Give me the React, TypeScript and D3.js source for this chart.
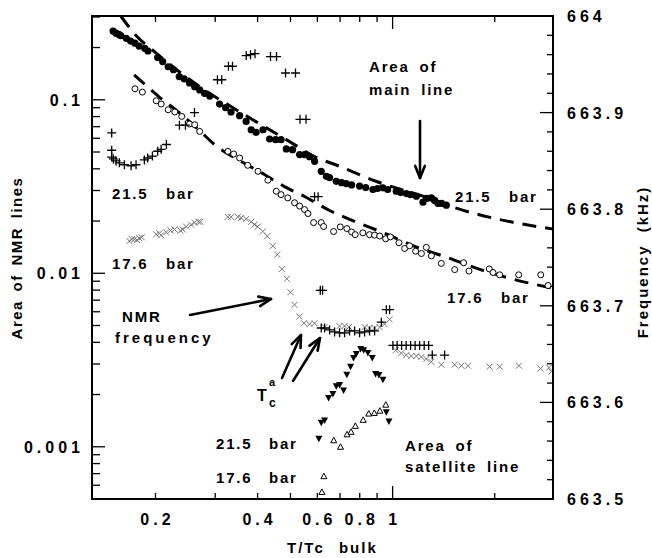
import React from 'react';
import * as d3 from 'd3';

const WIDTH = 652;
const HEIGHT = 558;
const margin = { top: 16, right: 99, bottom: 59, left: 92 };
const FONT = "'Liberation Sans', Arial, Helvetica, sans-serif";

// tick labels
const xTickValues = [0.2, 0.4, 0.6, 0.8, 1];
const xTickLabels = ['0.2', '0.4', '0.6', '0.8', '1'];
const areaTickValues = [0.001, 0.01, 0.1];
const areaTickLabels = ['0.001', '0.01', '0.1'];
const freqTickValues = [663.5, 663.6, 663.7, 663.8, 663.9, 664];
const freqTickLabels = ['663.5', '663.6', '663.7', '663.8', '663.9', '664'];

// [T/Tc bulk, area] - area of main line, 21.5 bar (filled circles)
const mainArea215: [number, number][] = [
  [0.150, 0.249], [0.153, 0.242], [0.156, 0.238], [0.158, 0.234], [0.164, 0.226],
  [0.169, 0.218], [0.174, 0.212], [0.179, 0.204], [0.186, 0.198], [0.190, 0.191],
  [0.203, 0.175], [0.210, 0.166], [0.218, 0.155], [0.226, 0.149], [0.235, 0.136],
  [0.243, 0.132], [0.252, 0.125], [0.261, 0.119], [0.270, 0.114], [0.279, 0.109],
  [0.289, 0.105], [0.309, 0.0945], [0.322, 0.090], [0.334, 0.085], [0.354, 0.081],
  [0.370, 0.075], [0.383, 0.0672], [0.396, 0.0649], [0.415, 0.0672], [0.434, 0.0594],
  [0.452, 0.0589], [0.469, 0.0589], [0.486, 0.0521], [0.507, 0.0516], [0.532, 0.0483],
  [0.550, 0.0483], [0.569, 0.0470], [0.589, 0.0442], [0.616, 0.0387], [0.638, 0.0362],
  [0.652, 0.0356], [0.682, 0.0339], [0.707, 0.0333], [0.730, 0.0329], [0.757, 0.0323],
  [0.799, 0.0318], [0.833, 0.0312], [0.875, 0.0304], [0.903, 0.0308], [0.936, 0.0311],
  [0.967, 0.0304], [1.025, 0.0297], [1.056, 0.0292], [1.098, 0.0288], [1.130, 0.0284],
  [1.175, 0.0278], [1.229, 0.0257], [1.260, 0.0270], [1.301, 0.0272], [1.330, 0.0263],
  [1.360, 0.0253], [1.395, 0.0253], [1.440, 0.0247],
];

// [T/Tc bulk, area] - area of main line, 17.6 bar (open circles)
const mainArea176: [number, number][] = [
  [0.174, 0.1157], [0.183, 0.1107], [0.201, 0.0987], [0.208, 0.0945], [0.218, 0.0876],
  [0.228, 0.0850], [0.239, 0.0802], [0.252, 0.0725], [0.261, 0.0718], [0.270, 0.0657],
  [0.327, 0.0504], [0.340, 0.0487], [0.354, 0.0462], [0.374, 0.0419], [0.401, 0.0387],
  [0.429, 0.0344], [0.454, 0.0297], [0.469, 0.0284], [0.491, 0.0272], [0.514, 0.0255],
  [0.532, 0.0244], [0.550, 0.0233], [0.563, 0.0221], [0.585, 0.0196], [0.616, 0.0196],
  [0.626, 0.0186], [0.670, 0.0174], [0.701, 0.0185], [0.733, 0.0181], [0.757, 0.0173],
  [0.776, 0.0167], [0.817, 0.0171], [0.855, 0.0167], [0.885, 0.0166], [0.916, 0.0164],
  [0.954, 0.0158], [0.985, 0.0162], [1.044, 0.0150], [1.085, 0.0139], [1.122, 0.0144],
  [1.169, 0.0134], [1.216, 0.0130], [1.257, 0.0141], [1.301, 0.0126], [1.392, 0.0114],
  [1.524, 0.0105], [1.619, 0.0115], [1.679, 0.0103], [1.927, 0.0106], [1.977, 0.0101],
  [2.068, 0.0098], [2.353, 0.0098], [2.733, 0.0098], [2.872, 0.0085],
];

// [T/Tc bulk, area] - dashed curves through the main line areas
const fit215: [number, number][] = [
  [0.158, 0.304], [0.177, 0.230], [0.199, 0.189], [0.235, 0.145], [0.279, 0.114],
  [0.331, 0.0924], [0.405, 0.0728], [0.497, 0.0574], [0.597, 0.0464], [0.688, 0.0418],
  [0.897, 0.0338], [1.286, 0.0270], [1.524, 0.0239], [2.068, 0.0204], [2.965, 0.0180],
];
const fit176: [number, number][] = [
  [0.173, 0.1392], [0.188, 0.1204], [0.205, 0.1040], [0.235, 0.0842], [0.270, 0.0663],
  [0.299, 0.0551], [0.354, 0.0446], [0.419, 0.0371], [0.480, 0.0316], [0.550, 0.0277],
  [0.652, 0.0230], [0.773, 0.0199], [0.947, 0.0170], [1.161, 0.0143], [1.473, 0.0122],
  [1.806, 0.01054], [2.214, 0.00936], [2.965, 0.0082],
];

// [T/Tc bulk, kHz] - NMR frequency, 21.5 bar (plus)
const freq215: [number, number][] = [
  [0.1486, 663.879], [0.1486, 663.861], [0.1486, 663.854], [0.1503, 663.852], [0.1531, 663.850],
  [0.1565, 663.848], [0.1620, 663.846], [0.1695, 663.845], [0.1753, 663.846], [0.1855, 663.851],
  [0.1897, 663.853], [0.1959, 663.855], [0.2031, 663.860], [0.2078, 663.862], [0.2154, 663.867],
  [0.2353, 663.887], [0.2451, 663.887], [0.2606, 663.900], [0.3046, 663.934], [0.3136, 663.934],
  [0.3282, 663.948], [0.3373, 663.948], [0.3702, 663.959], [0.3812, 663.960], [0.3930, 663.961],
  [0.4366, 663.958], [0.4548, 663.958], [0.4835, 663.941], [0.5173, 663.941], [0.5334, 663.893],
  [0.5556, 663.893], [0.5887, 663.813], [0.6030, 663.813], [0.6121, 663.716], [0.6217, 663.716],
  [0.6162, 663.677], [0.6302, 663.677], [0.6520, 663.675], [0.6745, 663.673], [0.6976, 663.672],
  [0.7219, 663.672], [0.7467, 663.674], [0.7725, 663.674], [0.7993, 663.672], [0.8270, 663.673],
  [0.8551, 663.674], [0.8849, 663.674], [0.9262, 663.683], [0.9581, 663.696], [0.9798, 663.696],
  [1.002, 663.659], [1.031, 663.659], [1.063, 663.659], [1.096, 663.659], [1.130, 663.659],
  [1.165, 663.659], [1.201, 663.659], [1.239, 663.659], [1.277, 663.659], [1.309, 663.649],
  [1.423, 663.649],
];

// [T/Tc bulk, kHz] - NMR frequency, 17.6 bar (grey x)
const freq176: [number, number][] = [
  [0.1676, 663.767], [0.1702, 663.769], [0.1734, 663.769], [0.1765, 663.768], [0.1793, 663.770],
  [0.1821, 663.771], [0.2009, 663.774], [0.2054, 663.775], [0.2078, 663.773], [0.2150, 663.776],
  [0.2214, 663.778], [0.2275, 663.779], [0.2369, 663.778], [0.2406, 663.779], [0.2462, 663.782],
  [0.2548, 663.784], [0.2606, 663.786], [0.2677, 663.787], [0.2714, 663.787], [0.3267, 663.792],
  [0.3343, 663.792], [0.3496, 663.792], [0.3578, 663.791], [0.3702, 663.790], [0.3831, 663.787],
  [0.3917, 663.784], [0.4005, 663.782], [0.4145, 663.777], [0.4269, 663.772], [0.4434, 663.762],
  [0.4570, 663.753], [0.4715, 663.738], [0.4877, 663.728], [0.5001, 663.714], [0.5139, 663.701],
  [0.5316, 663.689], [0.5481, 663.682], [0.5690, 663.681], [0.5887, 663.682], [0.6302, 663.678],
  [0.6976, 663.679], [0.7219, 663.679], [0.7431, 663.678], [0.8270, 663.678], [0.8551, 663.677],
  [0.8849, 663.677], [0.9155, 663.678], [0.9471, 663.681], [0.9798, 663.686], [1.0206, 663.654],
  [1.0609, 663.651], [1.0975, 663.649], [1.1354, 663.648], [1.1747, 663.648], [1.2155, 663.647],
  [1.2573, 663.645], [1.3008, 663.642], [1.3922, 663.639], [1.5236, 663.639], [1.5946, 663.638],
  [1.6676, 663.638], [1.9323, 663.637], [2.0683, 663.637], [2.3578, 663.638], [2.7276, 663.635],
  [2.891, 663.636], [2.9389, 663.632],
];

// [T/Tc bulk, area] - area of satellite line, 21.5 bar (filled down triangles)
const satArea215: [number, number][] = [
  [0.6062, 0.001112], [0.6162, 0.001374], [0.6302, 0.001416], [0.6474, 0.001913], [0.6666, 0.002017],
  [0.6822, 0.002233], [0.6976, 0.002271], [0.7168, 0.002107], [0.7329, 0.002603], [0.7517, 0.002893],
  [0.7671, 0.003247], [0.7813, 0.003423], [0.8047, 0.003657], [0.8214, 0.003600], [0.8455, 0.003468],
  [0.8711, 0.003247], [0.8910, 0.002627], [0.9111, 0.002593], [0.9362, 0.002436], [0.9581, 0.001583],
  [0.9752, 0.001397],
];

// [T/Tc bulk, area] - area of satellite line, 17.6 bar (open up triangles)
const satArea176: [number, number][] = [
  [0.6187, 0.000549], [0.6272, 0.000677], [0.6707, 0.001090], [0.7023, 0.001000], [0.7341, 0.001180],
  [0.7543, 0.001220], [0.7766, 0.001320], [0.8190, 0.001429], [0.8506, 0.001554], [0.8831, 0.001567],
  [0.9174, 0.001614], [0.9548, 0.001748],
];

function Arrow({ x1, y1, x2, y2 }: { x1: number; y1: number; x2: number; y2: number }) {
  const a = Math.atan2(y2 - y1, x2 - x1);
  const len = 13;
  const spread = 0.38;
  const p1 = [x2 - len * Math.cos(a - spread), y2 - len * Math.sin(a - spread)];
  const p2 = [x2 - len * Math.cos(a + spread), y2 - len * Math.sin(a + spread)];
  return (
    <g stroke="#000" strokeWidth={2.6} fill="none" strokeLinecap="round" strokeLinejoin="round">
      <line x1={x1} y1={y1} x2={x2} y2={y2} />
      <polyline points={`${p1[0]},${p1[1]} ${x2},${y2} ${p2[0]},${p2[1]}`} />
    </g>
  );
}

export default function App() {
  const left = margin.left;
  const right = WIDTH - margin.right;
  const top = margin.top;
  const bottom = HEIGHT - margin.bottom;

  const x = d3.scaleLog().domain([0.13, 2.97]).range([left, right]);
  const yArea = d3.scaleLog().domain([0.0005, 0.304]).range([bottom, top]);
  const yFreq = d3.scaleLinear().domain([663.5, 664]).range([bottom, top]);

  const xTicks = x.ticks();
  const areaTicks = yArea.ticks();
  const freqTicks = d3.range(663.5, 664.001, 0.02);

  const fitLine = d3
    .line<[number, number]>()
    .x(d => x(d[0]))
    .y(d => yArea(d[1]))
    .curve(d3.curveMonotoneX);

  const isDecade = (v: number) => Math.abs(Math.log10(v) - Math.round(Math.log10(v))) < 1e-6;
  const label = { fontFamily: FONT, fontWeight: 700, fontSize: 15, fill: '#000' } as const;
  const num = { fontFamily: FONT, fontWeight: 700, fontSize: 16, fill: '#000', letterSpacing: 4 } as const;

  return (
    <svg width={WIDTH} height={HEIGHT} style={{ position: 'absolute', left: 0, top: 0, background: '#fff' }}>
      <rect width={WIDTH} height={HEIGHT} fill="#fff" />
      <defs>
        <clipPath id="plot">
          <rect x={left} y={top} width={right - left} height={bottom - top} />
        </clipPath>
      </defs>

      {/* ticks */}
      <g stroke="#000" strokeWidth={1.3}>
        {xTicks.map((t, i) => {
          const len = isDecade(t) ? 13 : 6;
          return (
            <g key={'xt' + i}>
              <line x1={x(t)} x2={x(t)} y1={bottom} y2={bottom - len} />
              <line x1={x(t)} x2={x(t)} y1={top} y2={top + len} />
            </g>
          );
        })}
        {areaTicks.map((t, i) => (
          <line key={'yt' + i} x1={left} x2={left + (isDecade(t) ? 13 : 8)} y1={yArea(t)} y2={yArea(t)} />
        ))}
        {freqTicks.map((t, i) => (
          <line key={'ft' + i} x1={right} x2={right - (i % 5 === 0 ? 13 : 6)} y1={yFreq(t)} y2={yFreq(t)} />
        ))}
      </g>

      <g clipPath="url(#plot)">
        <path d={fitLine(fit215) || ''} fill="none" stroke="#000" strokeWidth={3} strokeDasharray="14 9" />
        <path d={fitLine(fit176) || ''} fill="none" stroke="#000" strokeWidth={3} strokeDasharray="14 9" />

        {freq176.map((d, i) => {
          const cx = x(d[0]);
          const cy = yFreq(d[1]);
          return (
            <path key={'x' + i} d={`M${cx - 3},${cy - 3}L${cx + 3},${cy + 3}M${cx - 3},${cy + 3}L${cx + 3},${cy - 3}`}
              stroke="#777" strokeWidth={1} fill="none" />
          );
        })}
        {mainArea176.map((d, i) => (
          <circle key={'o' + i} cx={x(d[0])} cy={yArea(d[1])} r={3} fill="#fff" stroke="#000" strokeWidth={1} />
        ))}
        {mainArea215.map((d, i) => (
          <circle key={'f' + i} cx={x(d[0])} cy={yArea(d[1])} r={3.6} fill="#000" />
        ))}
        {freq215.map((d, i) => {
          const cx = x(d[0]);
          const cy = yFreq(d[1]);
          return (
            <path key={'p' + i} d={`M${cx - 4.5},${cy}L${cx + 4.5},${cy}M${cx},${cy - 4.5}L${cx},${cy + 4.5}`}
              stroke="#000" strokeWidth={1.3} fill="none" />
          );
        })}
        {satArea215.map((d, i) => {
          const cx = x(d[0]);
          const cy = yArea(d[1]);
          return <path key={'d' + i} d={`M${cx - 3.5},${cy - 3}L${cx + 3.5},${cy - 3}L${cx},${cy + 3.5}Z`} fill="#000" />;
        })}
        {satArea176.map((d, i) => {
          const cx = x(d[0]);
          const cy = yArea(d[1]);
          return (
            <path key={'u' + i} d={`M${cx - 3},${cy + 2.5}L${cx + 3},${cy + 2.5}L${cx},${cy - 3}Z`}
              fill="#fff" stroke="#000" strokeWidth={1} />
          );
        })}
      </g>

      {/* frame */}
      <rect x={left} y={top} width={right - left} height={bottom - top} fill="none" stroke="#000" strokeWidth={2} />

      {/* tick labels */}
      {xTickValues.map((t, i) => (
        <text key={'xl' + i} x={x(t) + 2} y={525} textAnchor="middle" style={num}>{xTickLabels[i]}</text>
      ))}
      {areaTickValues.map((t, i) => (
        <text key={'al' + i} x={84} y={yArea(t) + 6} textAnchor="end" style={num}>{areaTickLabels[i]}</text>
      ))}
      {freqTickValues.map((t, i) => (
        <text key={'fl' + i} x={567} y={yFreq(t) + 6} style={num}>{freqTickLabels[i]}</text>
      ))}

      {/* axis titles */}
      <text x={287} y={553} style={{ ...label, letterSpacing: 2, wordSpacing: 8 }}>T/Tc bulk</text>
      <text transform="translate(22,258) rotate(-90)" textAnchor="middle" style={{ ...label, letterSpacing: 1.5, wordSpacing: 3 }}>
        Area of NMR lines
      </text>
      <text transform="translate(648,262) rotate(-90)" textAnchor="middle" style={{ ...label, letterSpacing: 2, wordSpacing: 6 }}>
        Frequency (kHz)
      </text>

      {/* annotations */}
      <g style={{ ...label, letterSpacing: 1.8 }}>
        <text x={369} y={72} style={{ wordSpacing: 4 }}>Area of</text>
        <text x={369} y={95} style={{ wordSpacing: 4 }}>main line</text>
        <text x={455} y={202}>21.5</text>
        <text x={509} y={202}>bar</text>
        <text x={447} y={303}>17.6</text>
        <text x={501} y={303}>bar</text>
        <text x={112} y={199}>21.5</text>
        <text x={166} y={199}>bar</text>
        <text x={112} y={269}>17.6</text>
        <text x={166} y={269}>bar</text>
        <text x={122} y={322}>NMR</text>
        <text x={115} y={343} style={{ letterSpacing: 3 }}>frequency</text>
        <text x={216} y={449}>21.5</text>
        <text x={269} y={449}>bar</text>
        <text x={216} y={483}>17.6</text>
        <text x={269} y={483}>bar</text>
        <text x={405} y={451} style={{ wordSpacing: 4 }}>Area of</text>
        <text x={405} y={472} style={{ wordSpacing: 4 }}>satellite line</text>
        <text x={257} y={401} style={{ fontSize: 16 }}>T</text>
        <text x={269} y={407} style={{ fontSize: 12 }}>c</text>
        <text x={269} y={386} style={{ fontSize: 11 }}>a</text>
      </g>

      <Arrow x1={420} y1={121} x2={420} y2={178} />
      <Arrow x1={190} y1={315} x2={271} y2={299} />
      <Arrow x1={282} y1={378} x2={301} y2={335} />
      <Arrow x1={293} y1={381} x2={320} y2={338} />
    </svg>
  );
}
